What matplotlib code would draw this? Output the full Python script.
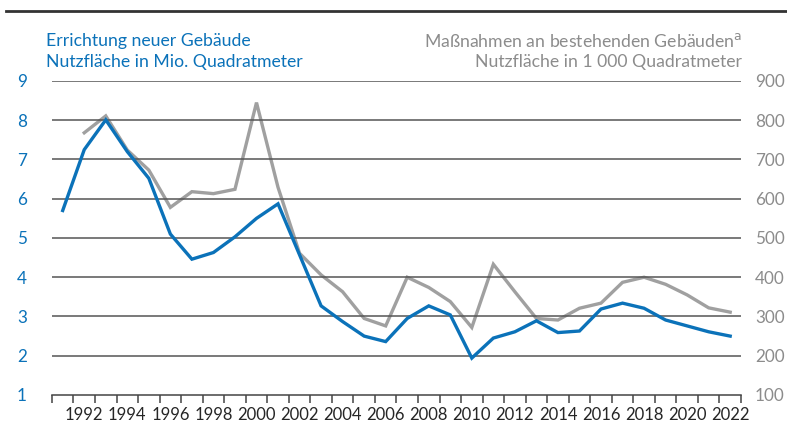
import matplotlib.pyplot as plt
from matplotlib.lines import Line2D

plt.rcParams['font.family'] = ['Lato', 'DejaVu Sans']

BLUE = '#0b72b9'
GRAY = '#a0a0a0'

years = list(range(1991, 2023))

# Errichtung neuer Gebaeude, Mio. m2 (left axis)
neubau = [5.70, 7.25, 8.01, 7.20, 6.52, 5.10, 4.46, 4.63, 5.03, 5.50,
          5.87, 4.57, 3.27, 2.87, 2.50, 2.36, 2.95, 3.27, 3.04, 1.94,
          2.45, 2.61, 2.89, 2.59, 2.63, 3.19, 3.34, 3.21, 2.91, 2.76,
          2.61, 2.50]

# Massnahmen an bestehenden Gebaeuden, 1 000 m2 (right axis), from 1992
bestand_years = list(range(1992, 2023))
bestand = [768, 811, 724, 673, 578, 618, 613, 624, 845, 629,
           461, 406, 363, 295, 276, 400, 374, 338, 272, 433,
           363, 295, 291, 321, 334, 387, 400, 382, 355, 322,
           311]

left_ticks = [1, 2, 3, 4, 5, 6, 7, 8, 9]
right_ticks = [100, 200, 300, 400, 500, 600, 700, 800, 900]
label_years = list(range(1992, 2023, 2))

fig = plt.figure(figsize=(7.87, 4.29), dpi=100)
ax = fig.add_axes([0.066, 0.0793, 0.8755, 0.7319])
ax2 = ax.twinx()

for t in left_ticks[1:]:
    ax.axhline(t, color='#555555', lw=1.1, zorder=1)

ax2.plot(bestand_years, bestand, color=GRAY, lw=2.4, zorder=3,
         solid_joinstyle='miter')
ax.plot(years, neubau, color=BLUE, lw=2.4, zorder=4, solid_joinstyle='miter')
ax.set_zorder(ax2.get_zorder() + 1)
ax.patch.set_visible(False)

ax.set_xlim(1990.5, 2022.5)
ax.set_ylim(1, 9)
ax2.set_ylim(100, 900)

for a in (ax, ax2):
    for s in ('top', 'left', 'right'):
        a.spines[s].set_visible(False)
ax2.spines['bottom'].set_visible(False)
ax.spines['bottom'].set_color('#444444')
ax.spines['bottom'].set_linewidth(1.1)

ax.set_yticks(left_ticks)
ax.tick_params(axis='y', length=0, pad=18, labelcolor=BLUE, labelsize=12.3)
ax2.set_yticks(right_ticks)
ax2.tick_params(axis='y', length=0, pad=10, labelcolor='#8c8c8c', labelsize=12.3)

ax.set_xticks(label_years)
ax.set_xticks([y + 0.5 for y in range(1990, 2023)], minor=True)
ax.tick_params(axis='x', which='major', length=0, pad=9, labelsize=12,
               labelcolor='#262626')
ax.tick_params(axis='x', which='minor', length=6, width=1.1, color='#444444',
               direction='out')

fig.text(0.058, 0.905, 'Errichtung neuer Gebäude', color=BLUE, fontsize=12.7,
         va='center', ha='left')
fig.text(0.058, 0.855, 'Nutzfläche in Mio. Quadratmeter', color=BLUE,
         fontsize=12.7, va='center', ha='left')
fig.text(0.943, 0.905, 'Maßnahmen an bestehenden Gebäuden$^{\\mathrm{a}}$',
         color='#8c8c8c', fontsize=12.7, va='center', ha='right')
fig.text(0.943, 0.855, 'Nutzfläche in 1 000 Quadratmeter', color='#8c8c8c',
         fontsize=12.7, va='center', ha='right')

fig.add_artist(Line2D([0.007, 1.0], [0.974, 0.974], color='#333333', lw=2,
                      transform=fig.transFigure))

fig.savefig('out.png', dpi=100)
